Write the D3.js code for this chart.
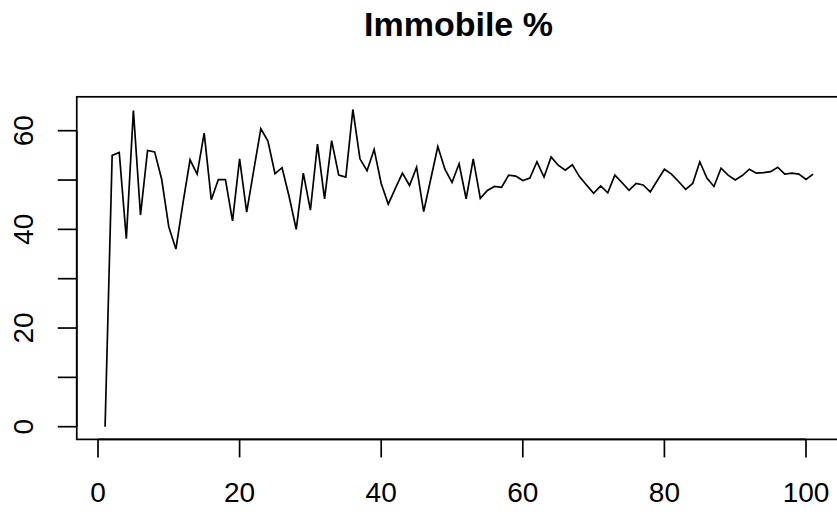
<!DOCTYPE html>
<html>
<head>
<meta charset="utf-8">
<script src="https://cdn.jsdelivr.net/npm/d3@7"></script>
<style>
  html, body { margin: 0; padding: 0; background: #fff; }
  svg { display: block; }
  text { font-family: "Liberation Sans", Arial, Helvetica, sans-serif; fill: #000; }
</style>
</head>
<body>
<svg id="chart" width="837" height="512"></svg>
<script>
// Immobile percentage per step (steps 1..101)
const steps = d3.range(1, 102);
const immobile = [
  0.0, 55.0, 55.6, 38.1, 64.1, 42.9, 56.0, 55.7, 50.1, 40.5,
  36.0, 45.3, 54.1, 51.2, 59.5, 46.0, 50.1, 50.1, 41.7, 54.3,
  43.5, 52.0, 60.4, 57.9, 51.3, 52.5, 46.6, 40.0, 51.4, 43.9,
  57.3, 46.2, 58.0, 51.0, 50.6, 64.3, 54.3, 51.9, 56.2, 49.3,
  45.1, 48.3, 51.4, 48.9, 52.6, 43.6, 50.2, 56.8, 52.2, 49.5,
  53.3, 46.2, 54.3, 46.3, 47.9, 48.7, 48.5, 51.0, 50.8, 49.9,
  50.4, 53.7, 50.6, 54.7, 53.0, 52.0, 53.1, 50.7, 49.0, 47.3,
  48.8, 47.4, 51.0, 49.5, 47.9, 49.3, 49.0, 47.6, 49.9, 52.2,
  51.2, 49.7, 48.1, 49.3, 53.7, 50.4, 48.7, 52.4, 51.0, 50.0,
  50.9, 52.2, 51.4, 51.5, 51.7, 52.6, 51.2, 51.4, 51.2, 50.1,
  51.2
];
const xTicks = [0, 20, 40, 60, 80, 100];
const yTicks = [0, 10, 20, 30, 40, 50, 60];
const yLabels = [0, 20, 40, 60];
const title = "Immobile %";

const svg = d3.select("#chart");

// Plot region with the usual 4% padding around the data range
const xMin = 1, xMax = 101;
const xPad = (xMax - xMin) * 0.04;
const yMin = 0, yMax = d3.max(immobile);
const yPad = (yMax - yMin) * 0.04;

const x = d3.scaleLinear().domain([0, 100]).range([98, 806]);
const y = d3.scaleLinear().domain([0, 60]).range([426.7, 130.7]);

const frameLeft = x(xMin - xPad), frameRight = x(xMax + xPad);
const frameTop = y(yMax + yPad), frameBottom = y(yMin - yPad);

const lw = 1.7;

// Frame
svg.append("rect")
  .attr("x", frameLeft).attr("y", frameTop)
  .attr("width", frameRight - frameLeft).attr("height", frameBottom - frameTop)
  .attr("fill", "none").attr("stroke", "#000").attr("stroke-width", lw);

// Series line
const line = d3.line().x((d, i) => x(steps[i])).y(d => y(d));
svg.append("path")
  .datum(immobile)
  .attr("d", line)
  .attr("fill", "none")
  .attr("stroke", "#000")
  .attr("stroke-width", lw)
  .attr("stroke-linejoin", "miter");

// Bottom axis
const xAxis = svg.append("g").attr("transform", `translate(0,${frameBottom})`);
xAxis.append("line")
  .attr("x1", x(xTicks[0])).attr("x2", x(xTicks[xTicks.length - 1]))
  .attr("stroke", "#000").attr("stroke-width", lw);
xAxis.selectAll("line.tick").data(xTicks).join("line")
  .attr("class", "tick")
  .attr("x1", d => x(d)).attr("x2", d => x(d))
  .attr("y1", 0).attr("y2", 18)
  .attr("stroke", "#000").attr("stroke-width", lw);
xAxis.selectAll("text").data(xTicks).join("text")
  .attr("x", d => x(d)).attr("y", 63)
  .attr("text-anchor", "middle")
  .attr("font-size", 28)
  .text(d => d);

// Left axis
const yAxis = svg.append("g").attr("transform", `translate(${frameLeft},0)`);
yAxis.append("line")
  .attr("y1", y(yTicks[0])).attr("y2", y(yTicks[yTicks.length - 1]))
  .attr("stroke", "#000").attr("stroke-width", lw);
yAxis.selectAll("line.tick").data(yTicks).join("line")
  .attr("class", "tick")
  .attr("x1", 0).attr("x2", -19)
  .attr("y1", d => y(d)).attr("y2", d => y(d))
  .attr("stroke", "#000").attr("stroke-width", lw);
yAxis.selectAll("text").data(yLabels).join("text")
  .attr("transform", d => `translate(-44,${y(d)}) rotate(-90)`)
  .attr("text-anchor", "middle")
  .attr("font-size", 28)
  .text(d => d);

// Title
svg.append("text")
  .attr("x", 458.5).attr("y", 36)
  .attr("text-anchor", "middle")
  .attr("font-size", 34)
  .attr("font-weight", "bold")
  .text(title);
</script>
</body>
</html>
